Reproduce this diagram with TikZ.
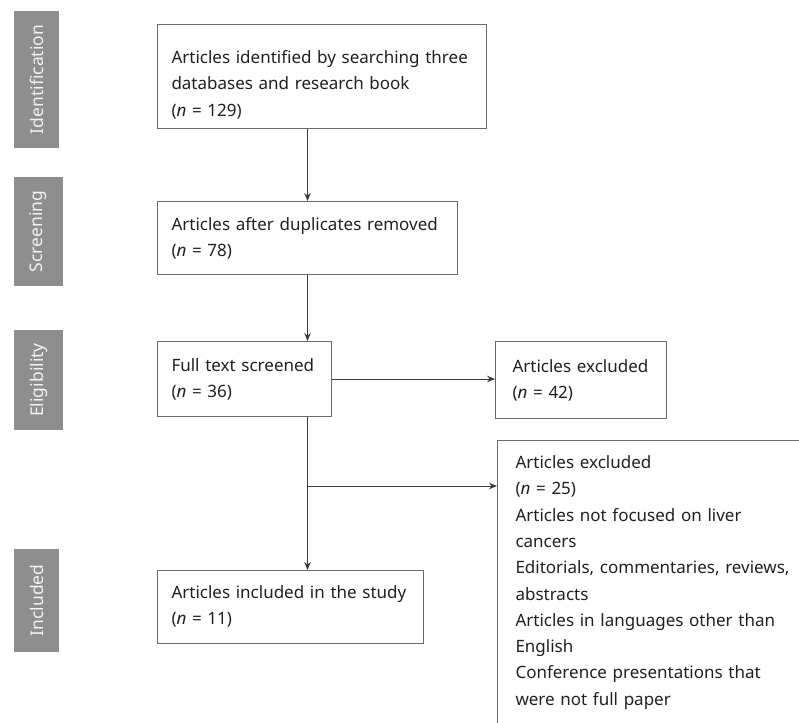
\documentclass[tikz,border=0pt]{standalone}
\usepackage{fontspec}
\setmainfont{Noto Sans}
\usepackage{tikz}
\usetikzlibrary{arrows.meta}
\definecolor{bargray}{HTML}{8E8E8E}
\definecolor{bartext}{HTML}{F2F2F2}
\definecolor{framegray}{HTML}{6A6A6A}
\definecolor{inkdark}{HTML}{231F20}
\definecolor{arrowdark}{HTML}{3A3A3A}
\tikzset{
  flowbox/.style={draw=framegray, line width=1pt, anchor=north west, inner xsep=14pt, inner ysep=0pt,
    align=left, text=inkdark, font=\fontsize{17}{26.3}\selectfont},
  sidebar/.style={fill=bargray, text=bartext, rotate=90, inner sep=0pt, font=\fontsize{17.5}{21}\selectfont},
  arr/.style={draw=arrowdark, line width=1pt, -{Stealth[length=8pt,width=6.5pt]}}
}
\begin{document}
\begin{tikzpicture}[x=1pt,y=-1pt]
						\path[use as bounding box] (0,0) rectangle (799,722);
						\clip (0,0) rectangle (799,722);
						% stage labels on the left
						\foreach \name/\ya/\yb/\w in {Identification/11/148/45,Screening/177/286/49,Eligibility/330/430/49,Included/549/652/45}
						{
							\def\h{\yb-\ya}
							\def\x{14+\w/2}
							\def\y{(\ya+\yb)/2}
							\node[sidebar, minimum width={(\h)*1pt}, minimum height=\w pt] (bar-\name) at ({\x},{\y}) {\name};
						}
						% boxes
						\node[flowbox, text width=301pt, text height=39pt, text depth=65pt] (found) at (157,24)
							{Articles identified by searching three\\databases and research book\\(\textit{n} = 129)};
						\node[flowbox, text width=272pt, text height=29pt, text depth=44pt] (dedup) at (157,201)
							{Articles after duplicates removed\\(\textit{n} = 78)};
						\node[flowbox, text width=146pt, text height=30pt, text depth=45pt] (fulltext) at (157,341)
							{Full text screened\\(\textit{n} = 36)};
						\node[flowbox, inner xsep=17pt, text width=137pt, text height=31pt, text depth=46pt] (exclA) at (495,341)
							{Articles excluded\\(\textit{n} = 42)};
						\node[flowbox, inner xsep=18pt, text width=300pt, text height=28pt, text depth=300pt] (exclB) at (497,440)
							{Articles excluded\\(\textit{n} = 25)\\Articles not focused on liver\\cancers\\Editorials, commentaries, reviews,\\abstracts\\Articles in languages other than\\English\\Conference presentations that\\were not full paper};
						\node[flowbox, text width=238pt, text height=28pt, text depth=45pt] (included) at (157,570)
							{Articles included in the study\\(\textit{n} = 11)};
						% connectors
						\draw[arr] (found.south -| dedup.north) -- (dedup.north);
						\draw[arr] (dedup.south) -- (dedup.south |- fulltext.north);
						\draw[arr] (fulltext.east) -- (fulltext.east -| exclA.west);
						\draw[arr] (fulltext.south -| dedup.south) -- (dedup.south |- included.north);
						\coordinate (split) at (307,486);
						\draw[arr] (split) -- (split -| exclB.west);
\end{tikzpicture}
\end{document}
